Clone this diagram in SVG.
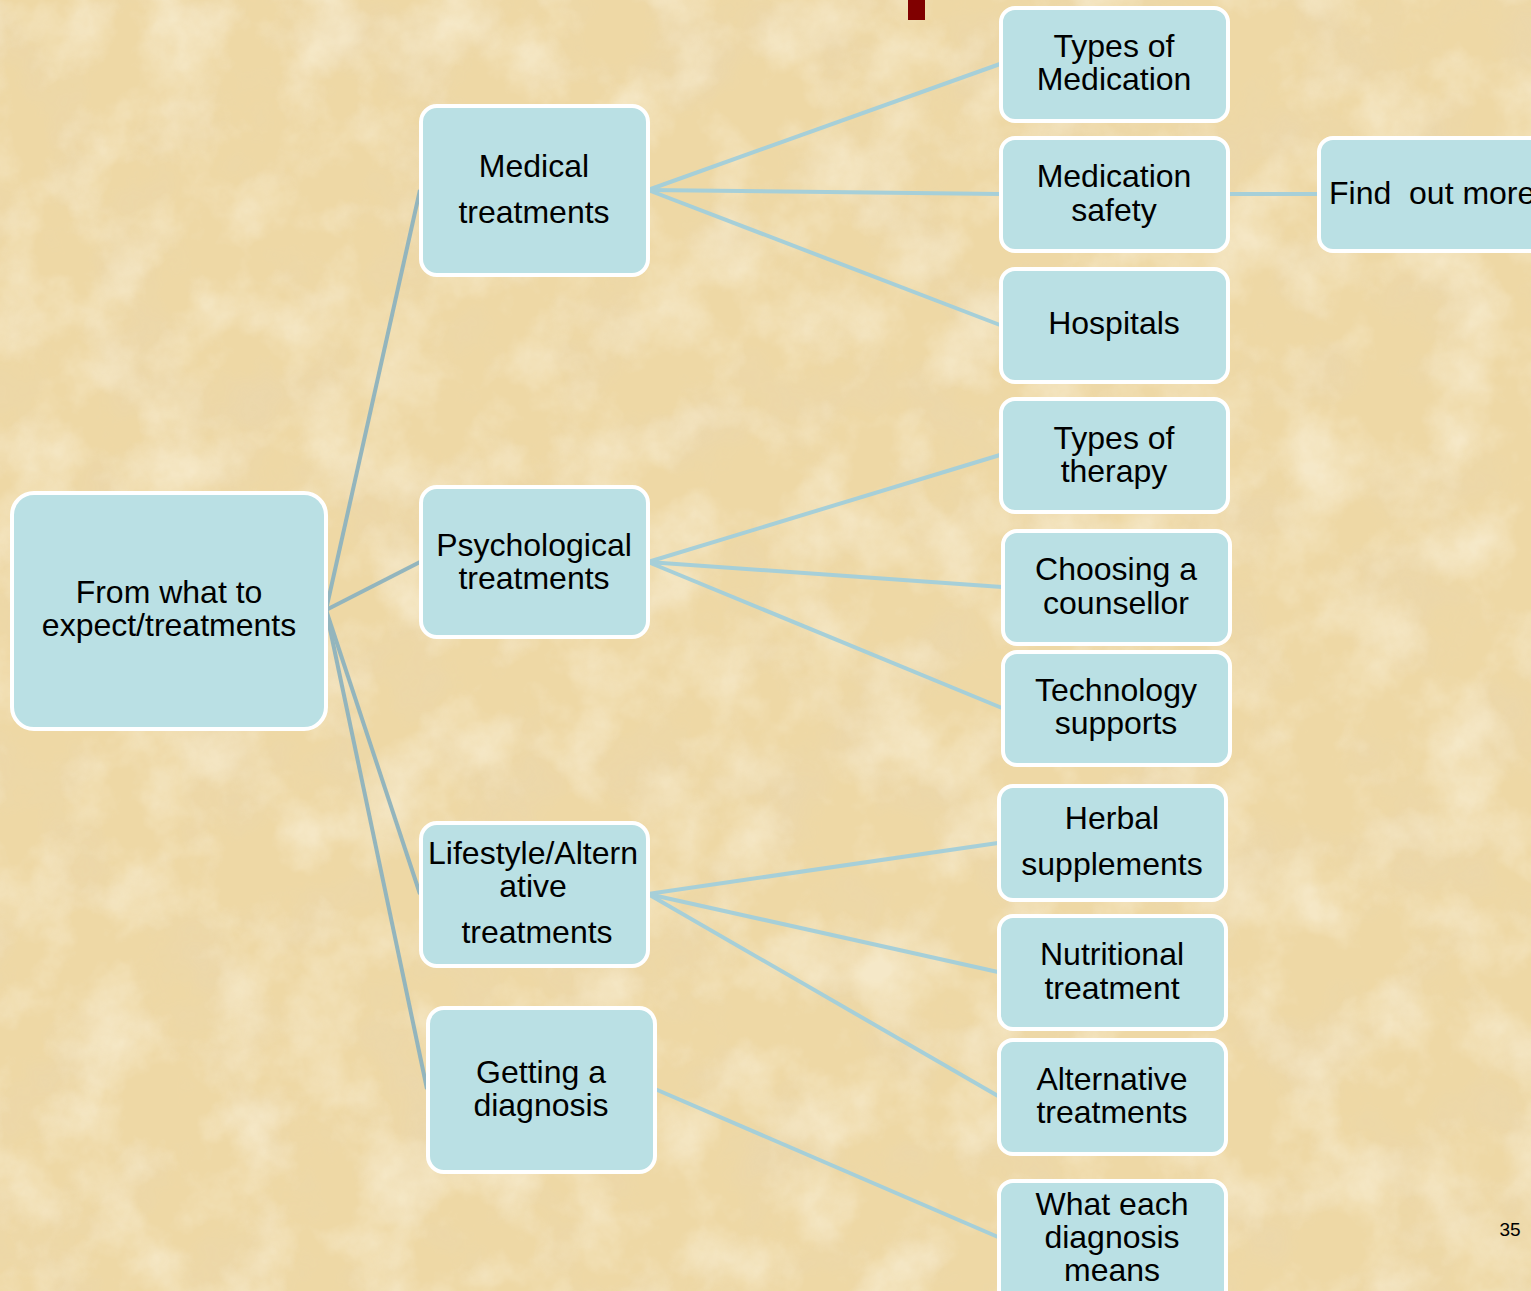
<svg xmlns="http://www.w3.org/2000/svg" width="1531" height="1291" viewBox="0 0 1531 1291">
<defs>
<filter id="tex" x="0" y="0" width="100%" height="100%">
<feTurbulence type="fractalNoise" baseFrequency="0.011" numOctaves="5" seed="7" result="n"/>
<feColorMatrix in="n" type="matrix" values="0 0 0 0 0.82  0 0 0 0 0.68  0 0 0 0 0.44  0 0 0 -2.4 1.3" result="dark"/>
<feTurbulence type="fractalNoise" baseFrequency="0.014" numOctaves="5" seed="19" result="n2"/>
<feColorMatrix in="n2" type="matrix" values="0 0 0 0 0.97  0 0 0 0 0.92  0 0 0 0 0.78  0 0 0 2.2 -0.95" result="light"/>
<feMerge><feMergeNode in="dark"/><feMergeNode in="light"/></feMerge>
</filter>
<style>
.node rect{fill:#bae0e4;stroke:#ffffff;stroke-width:4}
.node text{font-family:"Liberation Sans",Arial,sans-serif;font-size:32px;fill:#000;text-anchor:middle}
.c1{stroke:#93b5bd;stroke-width:4;fill:none}
.c2{stroke:#a6cfd8;stroke-width:4;fill:none}
</style>
</defs>
<rect width="1531" height="1291" fill="#eed8a5"/>
<rect width="1531" height="1291" filter="url(#tex)" opacity="0.55"/>
<rect x="908" y="0" width="17" height="20" fill="#800000"/>
<g id="connectors">
<line class="c1" x1="326" y1="610" x2="420" y2="190"/>
<line class="c1" x1="326" y1="610" x2="420" y2="562"/>
<line class="c1" x1="326" y1="610" x2="420" y2="894"/>
<line class="c1" x1="326" y1="610" x2="427" y2="1089"/>
<line class="c2" x1="648" y1="190" x2="1000" y2="64"/>
<line class="c2" x1="648" y1="190" x2="1000" y2="194"/>
<line class="c2" x1="648" y1="190" x2="1000" y2="325"/>
<line class="c2" x1="648" y1="562" x2="1000" y2="455"/>
<line class="c2" x1="648" y1="562" x2="1002" y2="587"/>
<line class="c2" x1="648" y1="562" x2="1002" y2="708"/>
<line class="c2" x1="648" y1="894" x2="998" y2="843"/>
<line class="c2" x1="648" y1="894" x2="998" y2="972"/>
<line class="c2" x1="648" y1="894" x2="998" y2="1096"/>
<line class="c2" x1="655" y1="1089" x2="998" y2="1237"/>
<line class="c2" x1="1228" y1="194" x2="1318" y2="194"/>
</g>
<g id="root" class="node"><rect x="12" y="493" width="314" height="236" rx="22"/><text x="169" y="603">From what to</text><text x="169" y="636">expect/treatments</text></g>
<g id="medical" class="node"><rect x="421" y="106" width="227" height="169" rx="16"/><text x="534" y="177">Medical</text><text x="534" y="223">treatments</text></g>
<g id="psych" class="node"><rect x="421" y="487" width="227" height="150" rx="16"/><text x="534" y="556">Psychological</text><text x="534" y="589">treatments</text></g>
<g id="lifestyle" class="node"><rect x="421" y="823" width="227" height="143" rx="16"/><text x="533" y="864">Lifestyle/Altern</text><text x="533" y="897">ative</text><text x="537" y="943">treatments</text></g>
<g id="diagnosis" class="node"><rect x="428" y="1008" width="227" height="164" rx="16"/><text x="541" y="1083">Getting a</text><text x="541" y="1116">diagnosis</text></g>
<g id="types-med" class="node"><rect x="1001" y="8" width="227" height="113" rx="14"/><text x="1114" y="57">Types of</text><text x="1114" y="90">Medication</text></g>
<g id="med-safety" class="node"><rect x="1001" y="138" width="227" height="113" rx="14"/><text x="1114" y="187">Medication</text><text x="1114" y="221">safety</text></g>
<g id="hospitals" class="node"><rect x="1001" y="269" width="227" height="113" rx="14"/><text x="1114" y="334">Hospitals</text></g>
<g id="types-therapy" class="node"><rect x="1001" y="399" width="227" height="113" rx="14"/><text x="1114" y="449">Types of</text><text x="1114" y="482">therapy</text></g>
<g id="counsellor" class="node"><rect x="1003" y="531" width="227" height="113" rx="14"/><text x="1116" y="580">Choosing a</text><text x="1116" y="614">counsellor</text></g>
<g id="technology" class="node"><rect x="1003" y="652" width="227" height="113" rx="14"/><text x="1116" y="701">Technology</text><text x="1116" y="734">supports</text></g>
<g id="herbal" class="node"><rect x="999" y="786" width="227" height="114" rx="14"/><text x="1112" y="829">Herbal</text><text x="1112" y="875">supplements</text></g>
<g id="nutritional" class="node"><rect x="999" y="916" width="227" height="113" rx="14"/><text x="1112" y="965">Nutritional</text><text x="1112" y="999">treatment</text></g>
<g id="alternative" class="node"><rect x="999" y="1040" width="227" height="114" rx="14"/><text x="1112" y="1090">Alternative</text><text x="1112" y="1123">treatments</text></g>
<g id="what-each" class="node"><rect x="999" y="1181" width="227" height="125" rx="14"/><text x="1112" y="1215">What each</text><text x="1112" y="1248">diagnosis</text><text x="1112" y="1281">means</text></g>
<g id="find-out" class="node"><rect x="1319" y="138" width="230" height="113" rx="14"/><text x="1329" y="204" style="text-anchor:start;white-space:pre" xml:space="preserve">Find  out more</text></g>
<text x="1510" y="1236" font-family="Liberation Sans, Arial, sans-serif" font-size="19" text-anchor="middle">35</text>
</svg>
